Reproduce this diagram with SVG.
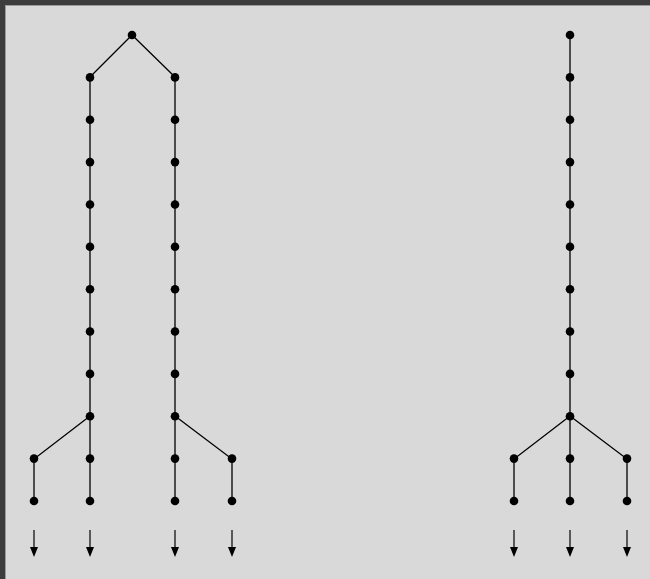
<svg xmlns="http://www.w3.org/2000/svg" width="650" height="579" viewBox="0 0 650 579">
<defs>
<style>
.e{stroke:#000;stroke-width:1.3;fill:none}
.n circle{fill:#000;r:4.3px}
.a{stroke:#000;stroke-width:1.2}
</style>
</defs>
<rect x="0" y="0" width="650" height="579" fill="#3c3c3c"/>
<rect x="5" y="5" width="645" height="574" fill="#9a9a9a"/>
<rect x="6" y="6" width="644" height="573" fill="#d9d9d9"/>
<g id="connectors">
<path class="e" d="M132,35 L90,77 M132,35 L175,77"/>
<path class="e" d="M90,77 V501 M175,77 V501"/>
<path class="e" d="M90,416 L34,459 V501 M175,416 L232,459 V501"/>
<path class="e" d="M570,35 V501 M570,416 L514,459 V501 M570,416 L627,459 V501"/>
<g id="arrows">
<line class="a" x1="34" y1="530" x2="34" y2="548"/><path d="M30,547 L38,547 L34,557 Z"/>
<line class="a" x1="90" y1="530" x2="90" y2="548"/><path d="M86,547 L94,547 L90,557 Z"/>
<line class="a" x1="175" y1="530" x2="175" y2="548"/><path d="M171,547 L179,547 L175,557 Z"/>
<line class="a" x1="232" y1="530" x2="232" y2="548"/><path d="M228,547 L236,547 L232,557 Z"/>
<line class="a" x1="514" y1="530" x2="514" y2="548"/><path d="M510,547 L518,547 L514,557 Z"/>
<line class="a" x1="570" y1="530" x2="570" y2="548"/><path d="M566,547 L574,547 L570,557 Z"/>
<line class="a" x1="627" y1="530" x2="627" y2="548"/><path d="M623,547 L631,547 L627,557 Z"/>
</g>
</g>
<g id="nodes" class="n">
<g id="root-left"><circle cx="132" cy="35" r="4.3"/></g>
<g id="chain-a">
<circle cx="90" cy="77.4" r="4.3"/><circle cx="90" cy="119.7" r="4.3"/><circle cx="90" cy="162.1" r="4.3"/><circle cx="90" cy="204.5" r="4.3"/><circle cx="90" cy="246.8" r="4.3"/><circle cx="90" cy="289.2" r="4.3"/><circle cx="90" cy="331.5" r="4.3"/><circle cx="90" cy="373.9" r="4.3"/><circle cx="90" cy="416.3" r="4.3"/><circle cx="90" cy="458.6" r="4.3"/><circle cx="90" cy="501" r="4.3"/>
</g>
<g id="chain-b">
<circle cx="175" cy="77.4" r="4.3"/><circle cx="175" cy="119.7" r="4.3"/><circle cx="175" cy="162.1" r="4.3"/><circle cx="175" cy="204.5" r="4.3"/><circle cx="175" cy="246.8" r="4.3"/><circle cx="175" cy="289.2" r="4.3"/><circle cx="175" cy="331.5" r="4.3"/><circle cx="175" cy="373.9" r="4.3"/><circle cx="175" cy="416.3" r="4.3"/><circle cx="175" cy="458.6" r="4.3"/><circle cx="175" cy="501" r="4.3"/>
</g>
<g id="branches-left">
<circle cx="34" cy="458.6" r="4.3"/><circle cx="34" cy="501" r="4.3"/>
<circle cx="232" cy="458.6" r="4.3"/><circle cx="232" cy="501" r="4.3"/>
</g>
<g id="chain-right">
<circle cx="570" cy="35" r="4.3"/><circle cx="570" cy="77.4" r="4.3"/><circle cx="570" cy="119.7" r="4.3"/><circle cx="570" cy="162.1" r="4.3"/><circle cx="570" cy="204.5" r="4.3"/><circle cx="570" cy="246.8" r="4.3"/><circle cx="570" cy="289.2" r="4.3"/><circle cx="570" cy="331.5" r="4.3"/><circle cx="570" cy="373.9" r="4.3"/><circle cx="570" cy="416.3" r="4.3"/><circle cx="570" cy="458.6" r="4.3"/><circle cx="570" cy="501" r="4.3"/>
</g>
<g id="branches-right">
<circle cx="514" cy="458.6" r="4.3"/><circle cx="514" cy="501" r="4.3"/>
<circle cx="627" cy="458.6" r="4.3"/><circle cx="627" cy="501" r="4.3"/>
</g>
</g>
</svg>
